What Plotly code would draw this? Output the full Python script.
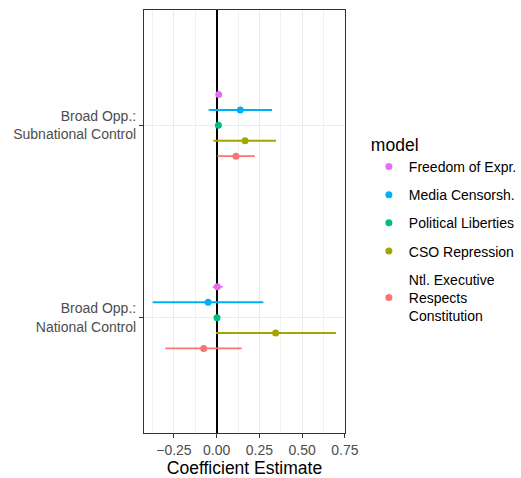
import plotly.graph_objects as go

# categories (bottom to top on the y axis)
categories = ["Broad Opp.:<br>National Control", "Broad Opp.:<br>Subnational Control"]

# models, listed top-to-bottom within each category
models = ["Freedom of Expr.", "Media Censorsh.", "Political Liberties",
          "CSO Repression", "Ntl. Executive<br>Respects<br>Constitution"]
colors = ["#E76BF3", "#00B0F6", "#00BF7D", "#A3A500", "#F8766D"]

# estimates [National, Subnational] per model
est_freedom = [0.004, 0.012]
lo_freedom = [-0.023, 0.002]
hi_freedom = [0.035, 0.022]

est_media = [-0.050, 0.138]
lo_media = [-0.374, -0.047]
hi_media = [0.273, 0.324]

est_political = [0.002, 0.010]
lo_political = [-0.006, 0.002]
hi_political = [0.010, 0.018]

est_cso = [0.345, 0.166]
lo_cso = [-0.004, -0.019]
hi_cso = [0.697, 0.347]

est_ntl = [-0.076, 0.113]
lo_ntl = [-0.300, 0.004]
hi_ntl = [0.146, 0.222]

estimates = [est_freedom, est_media, est_political, est_cso, est_ntl]
lows = [lo_freedom, lo_media, lo_political, lo_cso, lo_ntl]
highs = [hi_freedom, hi_media, hi_political, hi_cso, hi_ntl]

x_ticks = [-0.25, 0.0, 0.25, 0.50, 0.75]
x_ticktext = ["\u22120.25", "0.00", "0.25", "0.50", "0.75"]

dodge_width = 0.4
n = len(models)
step = dodge_width / n

fig = go.Figure()
for i, (m, c, e, lo, hi) in enumerate(zip(models, colors, estimates, lows, highs)):
    offset = ((n - 1) / 2 - i) * step
    ys = [k + 1 + offset for k in range(len(categories))]
    fig.add_trace(go.Scatter(
        x=e, y=ys, mode="markers", name=m,
        marker=dict(color=c, size=7),
        error_x=dict(type="data", symmetric=False,
                     array=[h - v for h, v in zip(hi, e)],
                     arrayminus=[v - l for v, l in zip(e, lo)],
                     color=c, thickness=1.8, width=0),
        legendgroup=m,
    ))

font_family = "Liberation Sans, Arial, sans-serif"
fig.update_layout(
    width=521, height=478,
    margin=dict(l=144, r=176, t=10, b=45, autoexpand=False),
    paper_bgcolor="white", plot_bgcolor="white",
    font=dict(family=font_family, color="black"),
    showlegend=True,
    legend=dict(
        title=dict(text="model", font=dict(size=17.5, color="black")),
        font=dict(size=14, color="black"),
        xref="container", yref="container",
        x=0.708, xanchor="left", y=0.732, yanchor="top",
        tracegroupgap=7, traceorder="grouped",
        itemwidth=30,
    ),
    xaxis=dict(
        range=[-0.425, 0.7505],
        tickvals=x_ticks, ticktext=x_ticktext,
        tickfont=dict(size=14, color="#4D4D4D"),
        ticks="outside", ticklen=4, tickcolor="#333333", tickwidth=1,
        showgrid=True, gridcolor="#EBEBEB", gridwidth=1,
        minor=dict(dtick=0.125, tick0=0, showgrid=True, gridcolor="#F0F0F0", gridwidth=1),
        zeroline=True, zerolinecolor="black", zerolinewidth=1.6,
        showline=True, linecolor="#333333", linewidth=1, mirror=True,
        automargin=False,
        title=dict(text="Coefficient Estimate", font=dict(size=17.5, color="black"), standoff=2),
    ),
    yaxis=dict(
        range=[0.4, 2.6],
        tickvals=[1, 2], ticktext=categories,
        tickfont=dict(size=14, color="#4D4D4D"),
        ticks="outside", ticklen=4, tickcolor="#333333", tickwidth=1,
        showgrid=True, gridcolor="#EBEBEB", gridwidth=1,
        zeroline=False, automargin=False,
        showline=True, linecolor="#333333", linewidth=1, mirror=True,
    ),
)

fig.write_html("out.html")
